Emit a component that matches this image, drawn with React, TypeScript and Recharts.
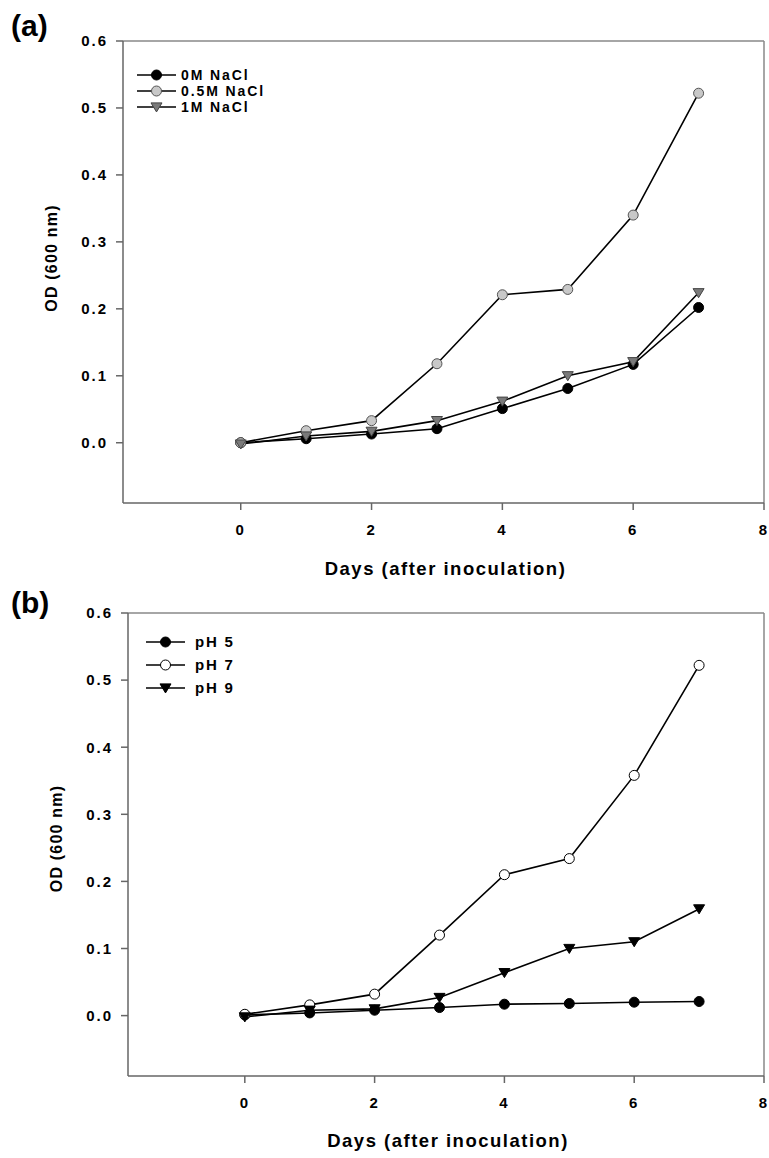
import React from "react";
import { LineChart, Line, XAxis, YAxis, ReferenceLine } from "recharts";

const days = [0, 1, 2, 3, 4, 5, 6, 7];
const nacl0M = [0.0, 0.006, 0.013, 0.021, 0.051, 0.081, 0.117, 0.202];
const nacl05M = [0.0, 0.018, 0.033, 0.118, 0.221, 0.229, 0.34, 0.522];
const nacl1M = [-0.002, 0.01, 0.017, 0.033, 0.062, 0.1, 0.121, 0.224];
const ph5 = [0.001, 0.004, 0.008, 0.012, 0.017, 0.018, 0.02, 0.021];
const ph7 = [0.002, 0.016, 0.032, 0.12, 0.21, 0.234, 0.358, 0.522];
const ph9 = [-0.002, 0.008, 0.01, 0.027, 0.064, 0.1, 0.11, 0.159];
const xTicks = [0, 2, 4, 6, 8];
const yTicks = [0, 0.1, 0.2, 0.3, 0.4, 0.5, 0.6];
const labelsA = ["0M NaCl", "0.5M NaCl", "1M NaCl"];
const labelsB = ["pH 5", "pH 7", "pH 9"];

const dataA = days.map((d, i) => ({ day: d, a: nacl0M[i], b: nacl05M[i], c: nacl1M[i] }));
const dataB = days.map((d, i) => ({ day: d, a: ph5[i], b: ph7[i], c: ph9[i] }));

const FONT = "Arial, 'Liberation Sans', sans-serif";

type MarkerKind = "circle" | "triangle";

function Marker({ cx, cy, kind, fill, stroke }: { cx: number; cy: number; kind: MarkerKind; fill: string; stroke: string }) {
  if (kind === "circle") {
    return <circle cx={cx} cy={cy} r={5} fill={fill} stroke={stroke} strokeWidth={1} />;
  }
  const s = 5.5;
  return (
    <path
      d={`M${cx - s},${cy - s * 0.75} L${cx + s},${cy - s * 0.75} L${cx},${cy + s * 0.9} Z`}
      fill={fill}
      stroke={stroke}
      strokeWidth={1}
    />
  );
}

const makeDot = (kind: MarkerKind, fill: string, stroke: string) => (props: any) => {
  const { cx, cy, index } = props;
  if (cx == null || cy == null) return <g key={`d-${index}`} />;
  return (
    <g key={`d-${kind}-${fill}-${index}`}>
      <Marker cx={cx} cy={cy} kind={kind} fill={fill} stroke={stroke} />
    </g>
  );
};

type SeriesStyle = { kind: MarkerKind; fill: string; stroke: string };

const stylesA: SeriesStyle[] = [
  { kind: "circle", fill: "#000000", stroke: "#000000" },
  { kind: "circle", fill: "#c8c8c8", stroke: "#555555" },
  { kind: "triangle", fill: "#7a7a7a", stroke: "#444444" },
];
const stylesB: SeriesStyle[] = [
  { kind: "circle", fill: "#000000", stroke: "#000000" },
  { kind: "circle", fill: "#ffffff", stroke: "#000000" },
  { kind: "triangle", fill: "#000000", stroke: "#000000" },
];

function LegendBox({
  left, top, rowGap, lineLen, textGap, fontSize, spacing, labels, styles,
}: {
  left: number; top: number; rowGap: number; lineLen: number; textGap: number; fontSize: number; spacing: number;
  labels: string[]; styles: SeriesStyle[];
}) {
  return (
    <svg style={{ position: "absolute", left, top, overflow: "visible" }} width={160} height={rowGap * 3}>
      {labels.map((lab, i) => {
        const y = i * rowGap;
        const st = styles[i];
        return (
          <g key={lab}>
            <line x1={0} x2={lineLen} y1={y} y2={y} stroke="#000" strokeWidth={1.5} />
            <Marker cx={lineLen / 2} cy={y} kind={st.kind} fill={st.fill} stroke={st.stroke} />
            <text
              x={lineLen + textGap}
              y={y}
              dy="0.35em"
              fontFamily={FONT}
              fontWeight="bold"
              fontSize={fontSize}
              letterSpacing={spacing}
              fill="#000"
            >
              {lab}
            </text>
          </g>
        );
      })}
    </svg>
  );
}

function Panel({
  top, height, marginTop, marginLeft, marginBottom, data, styles, xLabelOffset, yLabelShift,
}: {
  top: number; height: number; marginTop: number; marginLeft: number; marginBottom: number;
  data: any[]; styles: SeriesStyle[]; xLabelOffset: number; yLabelShift: number;
}) {
  const tickStyle = { fontSize: 15, fontWeight: "bold", fill: "#000", fontFamily: FONT, letterSpacing: 2 } as any;
  return (
    <div style={{ position: "absolute", left: 0, top }}>
      <LineChart
        width={769}
        height={height}
        data={data}
        margin={{ top: marginTop, right: 5, bottom: marginBottom, left: marginLeft }}
      >
        <XAxis
          dataKey="day"
          type="number"
          domain={[-1.8, 8]}
          ticks={xTicks}
          allowDataOverflow
          height={30}
          tickSize={7}
          tickMargin={14}
          tick={tickStyle}
          stroke="#666"
          strokeWidth={1.5}
          tickLine={{ stroke: "#666", strokeWidth: 1.5 }}
          label={(p: any) => {
            const vb = p.viewBox;
            return (
              <text
                x={vb.x + vb.width / 2 + 2}
                y={vb.y + xLabelOffset}
                textAnchor="middle"
                dominantBaseline="central"
                fontFamily={FONT}
                fontWeight="bold"
                fontSize={18.5}
                letterSpacing={1.5}
                fill="#000"
              >
                Days (after inoculation)
              </text>
            );
          }}
        />
        <YAxis
          type="number"
          domain={[-0.09, 0.6]}
          ticks={yTicks}
          allowDataOverflow
          width={70}
          tickSize={7}
          tickMargin={8}
          tick={tickStyle}
          tickFormatter={(v: number) => v.toFixed(1)}
          stroke="#666"
          strokeWidth={1.5}
          tickLine={{ stroke: "#666", strokeWidth: 1.5 }}
          label={(p: any) => {
            const vb = p.viewBox;
            const cx = vb.x + vb.width - 72;
            const cy = vb.y + vb.height / 2 + yLabelShift;
            return (
              <text
                x={cx}
                y={cy}
                transform={`rotate(-90, ${cx}, ${cy})`}
                textAnchor="middle"
                dominantBaseline="central"
                fontFamily={FONT}
                fontWeight="bold"
                fontSize={16}
                letterSpacing={1.2}
                fill="#000"
              >
                OD (600 nm)
              </text>
            );
          }}
        />
        <ReferenceLine y={0.6} stroke="#888" strokeWidth={1.5} />
        <ReferenceLine x={8} stroke="#888" strokeWidth={1.5} />
        {(["a", "b", "c"] as const).map((k, i) => (
          <Line
            key={k}
            dataKey={k}
            type="linear"
            stroke="#000"
            strokeWidth={1.6}
            isAnimationActive={false}
            dot={makeDot(styles[i].kind, styles[i].fill, styles[i].stroke)}
            activeDot={false}
          />
        ))}
      </LineChart>
    </div>
  );
}

export default function App() {
  return (
    <div style={{ position: "absolute", left: 0, top: 0, width: 769, height: 1158, background: "#fff" }}>
      <Panel
        top={0}
        height={590}
        marginTop={41}
        marginLeft={53}
        marginBottom={57}
        data={dataA}
        styles={stylesA}
        xLabelOffset={65}
        yLabelShift={-14}
      />
      <Panel
        top={580}
        height={578}
        marginTop={33}
        marginLeft={58}
        marginBottom={52}
        data={dataB}
        styles={stylesB}
        xLabelOffset={64}
        yLabelShift={-6}
      />
      <LegendBox left={137} top={75} rowGap={16} lineLen={39} textGap={5} fontSize={14} spacing={1.9} labels={labelsA} styles={stylesA} />
      <LegendBox left={146} top={642} rowGap={23} lineLen={39} textGap={10} fontSize={15} spacing={1.8} labels={labelsB} styles={stylesB} />
      <div
        style={{
          position: "absolute",
          left: 11,
          top: 8,
          fontFamily: FONT,
          fontWeight: "bold",
          fontSize: 30,
          lineHeight: "36px",
          color: "#000",
        }}
      >
        (a)
      </div>
      <div
        style={{
          position: "absolute",
          left: 11,
          top: 585,
          fontFamily: FONT,
          fontWeight: "bold",
          fontSize: 30,
          lineHeight: "36px",
          color: "#000",
        }}
      >
        (b)
      </div>
    </div>
  );
}
